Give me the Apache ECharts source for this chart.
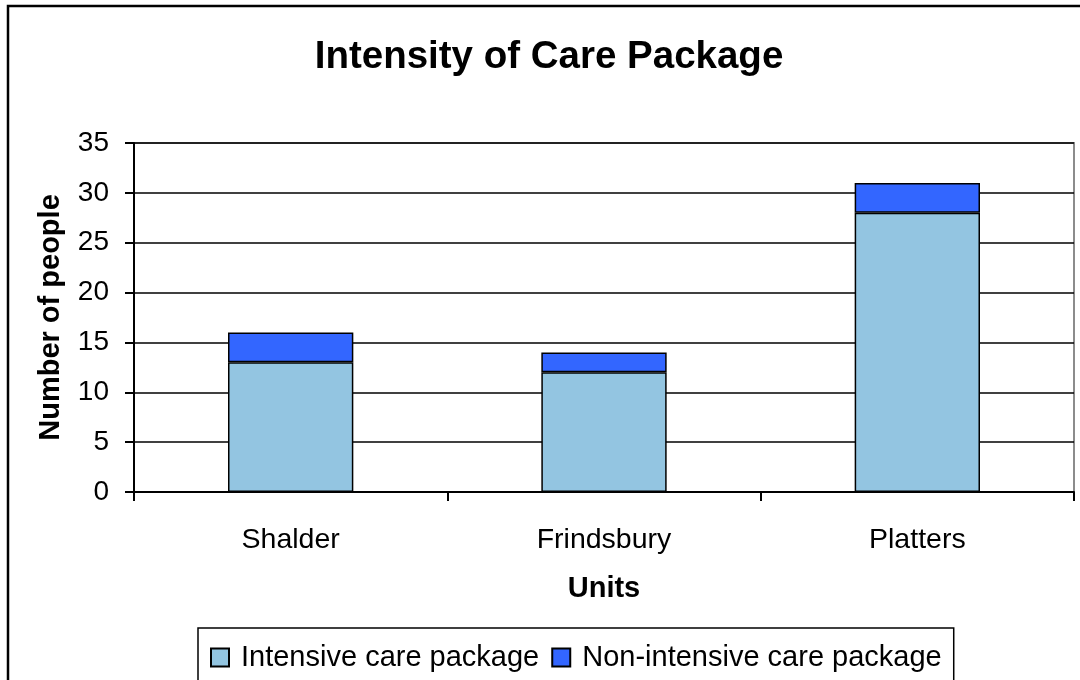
<!DOCTYPE html>
<html>
<head>
<meta charset="utf-8">
<script src="https://cdn.jsdelivr.net/npm/echarts@6/dist/echarts.min.js"></script>
<style>
  html, body { margin: 0; padding: 0; background: #fff; }
  #chart { width: 1080px; height: 680px; }
</style>
</head>
<body>
<div id="chart"></div>
<script>
// Units and head counts per care package
const units = ['Shalder', 'Frindsbury', 'Platters'];
const intensive = [13, 12, 28];
const nonIntensive = [3, 2, 3];
const yTicks = [0, 5, 10, 15, 20, 25, 30, 35];

const FONT = '"Liberation Sans", Arial, sans-serif';

const chart = echarts.init(document.getElementById('chart'));
chart.setOption({
  animation: false,
  backgroundColor: '#fff',
  title: {
    text: 'Intensity of Care Package',
    left: 544, top: 33, textAlign: 'center',
    textStyle: { fontFamily: FONT, fontSize: 38.5, fontWeight: 'bold', color: '#000' }
  },
  graphic: [{
    type: 'rect', silent: true, z: 100,
    shape: { x: 8, y: 6, width: 1200, height: 800 },
    style: { fill: 'none', stroke: '#000', lineWidth: 2.5 }
  }],
  grid: {
    left: 134, top: 143, width: 940, height: 349,
    show: true, borderColor: '#8c8c8c', borderWidth: 2, backgroundColor: 'transparent'
  },
  legend: {
    left: 198, top: 628,
    padding: [15, 12, 20, 12],
    borderColor: '#000', borderWidth: 1.5,
    itemWidth: 18, itemHeight: 18, itemGap: 12,
    icon: 'rect',
    textStyle: { fontFamily: FONT, fontSize: 29, color: '#000', padding: [0, 0, 0, 7] },
    data: ['Intensive care package', 'Non-intensive care package']
  },
  xAxis: {
    type: 'category', data: units,
    name: 'Units', nameLocation: 'middle', nameGap: 82,
    nameTextStyle: { fontFamily: FONT, fontSize: 29, fontWeight: 'bold', color: '#000' },
    axisLine: { lineStyle: { color: '#000', width: 2 } },
    axisTick: { show: true, length: 9, inside: false, lineStyle: { color: '#000', width: 2 } },
    axisLabel: { fontFamily: FONT, fontSize: 28.5, color: '#000', margin: 34 },
    splitLine: { show: false }
  },
  yAxis: {
    type: 'value', min: yTicks[0], max: yTicks[yTicks.length - 1], interval: 5,
    name: 'Number of people', nameLocation: 'middle', nameGap: 69, nameRotate: 90,
    nameTextStyle: { fontFamily: FONT, fontSize: 29, fontWeight: 'bold', color: '#000' },
    axisLine: { show: true, lineStyle: { color: '#000', width: 2 } },
    axisTick: { show: true, length: 9, lineStyle: { color: '#000', width: 2 } },
    axisLabel: { fontFamily: FONT, fontSize: 28, color: '#000', margin: 25 },
    splitLine: { show: true, lineStyle: { color: '#000', width: 1.5 } }
  },
  series: [
    {
      name: 'Intensive care package', type: 'bar', stack: 'care',
      data: intensive, barWidth: '40%',
      itemStyle: { color: '#93c5e1', borderColor: '#000', borderWidth: 1.5 }
    },
    {
      name: 'Non-intensive care package', type: 'bar', stack: 'care',
      data: nonIntensive, barWidth: '40%',
      itemStyle: { color: '#3366ff', borderColor: '#000', borderWidth: 1.5 }
    }
  ]
});
</script>
</body>
</html>
